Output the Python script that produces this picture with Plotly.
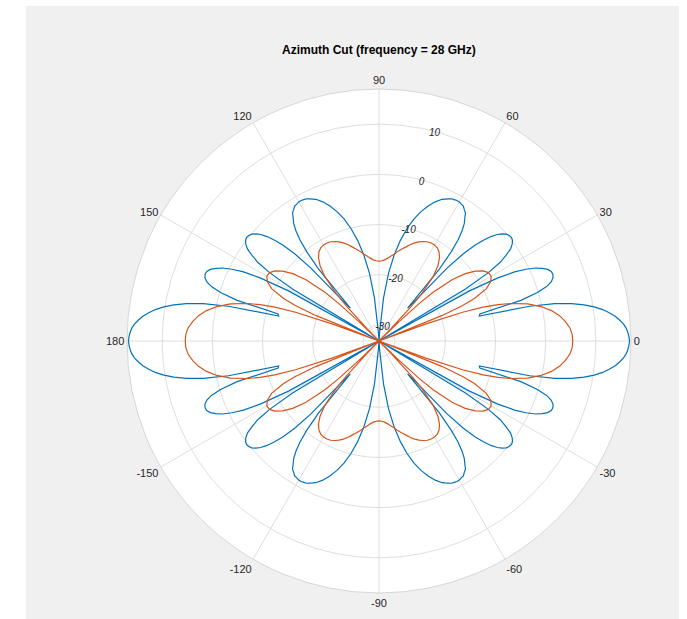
import numpy as np
import plotly.graph_objects as go

# Azimuth-cut gain (dB) over the first quadrant; the pattern is mirrored
# about the 0-180 and 90-270 axes to close the full 360 degree trace.
blue_ang = [0, 1, 2, 3, 4, 5, 6, 7, 8, 9, 10, 11, 12, 13, 14, 15, 16, 17, 18,
            19, 20, 21, 22, 23, 24, 25, 26, 27, 28, 29, 30, 31, 32, 33, 34, 35,
            36, 37, 38, 39, 40, 41, 42, 43, 44, 45, 46, 47, 48, 49, 50, 51, 52,
            53, 54, 55, 56, 57, 58, 59, 60, 61, 62, 63, 64, 65, 66, 68, 70, 72,
            74, 76, 78, 80, 82, 84, 86, 88, 90]
blue_db = [16.7, 16.6, 16.4, 16.1, 15.6, 14.9, 14.1, 13.0, 11.8, 10.2, 8.3, 5.9,
           2.6, -2.4, -12.6, -12.4, -3.8, -0.2, 1.9, 3.1, 3.7, 3.9, 3.8, 3.3,
           2.4, 1.2, -0.6, -2.9, -6.5, -12.6, -40, -13.1, -7.5, -4.4, -2.7,
           -1.2, -0.4, 0.1, 0.3, 0.2, -0.1, -0.7, -1.5, -2.7, -4.3, -6.2, -9.1,
           -13.4, -22.5, -24.5, -14.5, -10.3, -7.6, -5.7, -4.3, -3.4, -2.4,
           -2.0, -1.5, -1.4, -1.2, -1.2, -1.3, -1.4, -1.7, -2.0, -2.3, -3.3,
           -4.6, -6.1, -7.9, -10.1, -12.7, -15.8, -19.6, -24.6, -31.6, -40,
           -40]

orange_ang = [0, 2, 4, 6, 8, 10, 12, 14, 16, 17, 18, 19, 20, 21, 22, 23, 24, 26,
              28, 30, 32, 34, 36, 38, 40, 42, 43, 44, 45, 46, 47, 48, 50, 52,
              54, 56, 58, 60, 62, 64, 66, 68, 70, 72, 74, 76, 78, 80, 82, 84,
              86, 88, 90]
orange_db = [5.4, 5.3, 4.9, 4.1, 3.1, 1.7, -0.2, -2.7, -6.1, -8.4, -11.4, -15.6,
             -23.4, -32.9, -19.6, -15.1, -12.4, -9.4, -8.0, -7.4, -7.5, -8.2,
             -9.5, -11.4, -14.2, -18.7, -22.2, -28.0, -50, -29.9, -23.7, -20.3,
             -16.4, -14.1, -12.7, -11.8, -11.3, -11.1, -11.1, -11.2, -11.5,
             -11.9, -12.4, -13.0, -13.7, -14.3, -14.9, -15.6, -16.1, -16.6,
             -17.0, -17.2, -17.3]

angle_ticks = [0, 30, 60, 90, 120, 150, 180, 210, 240, 270, 300, 330]
angle_text = ["0", "30", "60", "90", "120", "150", "180", "-150", "-120",
              "-90", "-60", "-30"]
radial_ticks = [-30, -20, -10, 0, 10]
r_min, r_max = -33.2, 17.0
label_angle = 75


def full_circle(ang, val):
    a = np.asarray(ang, float)
    v = np.asarray(val, float)
    q2a, q2v = 180 - a[::-1], v[::-1]
    q3a, q3v = 180 + a, v
    q4a, q4v = 360 - a[::-1], v[::-1]
    th = np.concatenate([a, q2a[1:], q3a[1:], q4a[1:]])
    r = np.concatenate([v, q2v[1:], q3v[1:], q4v[1:]])
    return th, np.maximum(r, r_min)


fig = go.Figure()
for ang, val, col in [(blue_ang, blue_db, "#0072BD"),
                      (orange_ang, orange_db, "#D95319")]:
    th, r = full_circle(ang, val)
    fig.add_trace(go.Scatterpolar(r=r, theta=th, mode="lines",
                                  line=dict(color=col, width=1.2),
                                  hoverinfo="skip", showlegend=False))

# magnitude labels sit on their rings along the 75 degree spoke
fig.add_trace(go.Scatterpolar(
    r=np.array(radial_ticks, float) - 0.5,
    theta=[label_angle] * len(radial_ticks),
    mode="text", text=[str(t) for t in radial_ticks],
    textposition="middle center",
    textfont=dict(size=10, color="#262626", style="italic",
                  family="Liberation Sans, Arial, sans-serif"),
    hoverinfo="skip", showlegend=False))

W, H = 687, 619
cx, cy, R = 379, 341, 252
fig.add_shape(type="rect", xref="paper", yref="paper",
              x0=26 / W, x1=679 / W, y0=0, y1=(H - 6) / H,
              fillcolor="#F0F0F0", line=dict(width=0), layer="below")

fig.update_layout(
    width=W, height=H, margin=dict(l=0, r=0, t=0, b=0),
    paper_bgcolor="white",
    font=dict(family="Liberation Sans, Arial, sans-serif", color="#262626"),
    polar=dict(
        domain=dict(x=[(cx - R) / W, (cx + R) / W],
                    y=[(H - cy - R) / H, (H - cy + R) / H]),
        bgcolor="white",
        angularaxis=dict(direction="counterclockwise", rotation=0,
                         tickmode="array", tickvals=angle_ticks,
                         ticktext=angle_text, ticks="",
                         tickfont=dict(size=11, color="#262626"),
                         showline=True, linecolor="#d6d6d6", linewidth=1,
                         gridcolor="#dedede", gridwidth=1),
        radialaxis=dict(range=[r_min, r_max], tickmode="array",
                        tickvals=radial_ticks, angle=label_angle,
                        showticklabels=False, ticks="", showline=False,
                        gridcolor="#dedede", gridwidth=1),
    ),
    annotations=[dict(text="<b>Azimuth Cut (frequency = 28 GHz)</b>",
                      xref="paper", yref="paper", x=cx / W, y=(H - 50) / H,
                      showarrow=False, font=dict(size=12, color="black"),
                      xanchor="center", yanchor="middle")],
)

fig.write_html("out.html")
